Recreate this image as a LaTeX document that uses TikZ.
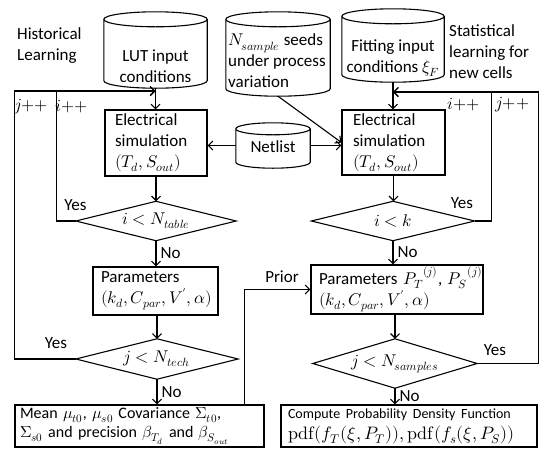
\documentclass[tikz,border=0pt]{standalone}
\usepackage{fontspec}
\usepackage{unicode-math}
\setmainfont{Carlito}
\usetikzlibrary{arrows.meta,calc}
\newcommand\cylshape[2]{%
  \draw[ln] let \p1=(#1.west), \p2=(#1.east), \n1={(\x2-\x1)/2} in
    ([yshift=-#2]#1.north) ellipse [x radius=\n1, y radius=#2]
    ([yshift=-#2]#1.north west) -- ([yshift=#2]#1.south west)
    arc [start angle=180, end angle=360, x radius=\n1, y radius=#2]
    -- ([yshift=-#2]#1.north east);}
\begin{document}
\begin{tikzpicture}[x=1pt,y=-1pt,
  ln/.style={line width=1.1pt},
  arr/.style={line width=1.1pt,-{Straight Barb[length=4.5pt,width=9pt]}},
  every node/.style={font=\fontsize{17}{21}\selectfont},
  txt/.style={inner sep=0},
  pbox/.style={draw,line width=1.1pt,inner ysep=0,align=left},
  hold/.style={inner sep=0,draw=none},
  lbl/.style={inner sep=0,anchor=west,xshift=4pt}]
\useasboundingbox (0,0) rectangle (547,459);

% cylinders
\node[hold,minimum width=103pt,minimum height=76pt] (lut) at (155.5,50) {};
\node[hold,minimum width=104pt,minimum height=84pt] (ns) at (278,54) {};
\node[hold,minimum width=102pt,minimum height=73pt] (fit) at (393,45.5) {};
\node[hold,minimum width=74pt,minimum height=45pt] (net) at (273,145.5) {};
\cylshape{lut}{7.5pt}
\cylshape{ns}{7.5pt}
\cylshape{fit}{7.5pt}
\cylshape{net}{6pt}
\node[txt,align=center] (lutT) at (155.5,66) {LUT input\\conditions};
\node[txt,align=left,anchor=west] (nsT) at (228,61) {$N_{sample}$ seeds\\under process\\variation};
\node[txt,align=center] (fitT) at (393,58) {Fitting input\\conditions $\xi_F$};
\node[txt] (netT) at (273,147) {Netlist};
\node[txt,align=left,anchor=west] (hist) at (17,46) {Historical\\Learning};
\node[txt,align=left,anchor=west] (stat) at (449,52) {Statistical\\learning for\\new cells};

% boxes
\node[pbox,text width=82pt,inner xsep=10pt,minimum height=66pt] (eL) at (156,143) {Electrical\\simulation\\$(T_d,S_{out})$};
\node[pbox,text width=81pt,inner xsep=11pt,minimum height=65pt] (eR) at (393.5,142.5) {Electrical\\simulation\\$(T_d,S_{out})$};
\node[pbox,text width=109pt,inner xsep=8pt,minimum height=48pt] (pL) at (155.5,291) {Parameters\\\mbox{$(k_d,C_{par},V',\alpha)$}};
\node[pbox,text width=156pt,inner xsep=8pt,minimum height=49pt] (pR) at (397,289.5) {\mbox{Parameters ${P_T}^{(j)}$, ${P_S}^{(j)}$}\\\mbox{$(k_d,C_{par},V',\alpha)$}};
\node[pbox,text width=239pt,inner xsep=5pt,minimum height=42pt,font=\fontsize{16}{19}\selectfont] (mean) at (139.5,426) {\mbox{Mean $\mu_{t0}$, $\mu_{s0}$ Covariance $\Sigma_{t0}$,}\\\mbox{$\Sigma_{s0}$ and precision $\beta_{T_d}$ and $\beta_{S_{out}}$}};
\node[pbox,text width=242pt,inner xsep=7pt,minimum height=42pt] (comp) at (409,426) {\mbox{\fontsize{14}{17}\selectfont Compute Probability Density Function}\\\mbox{\fontsize{18}{20}\selectfont $\symup{pdf}(f_T(\xi,P_T)),\symup{pdf}(f_s(\xi,P_S))$}};

% diamonds
\node[hold,minimum width=160pt,minimum height=39pt] (dL1) at (156,221) {$i<N_{table}$};
\node[hold,minimum width=163pt,minimum height=39pt] (dR1) at (393,221) {$i<k$};
\node[hold,minimum width=162pt,minimum height=40pt] (dL2) at (157,359) {$j<N_{tech}$};
\node[hold,minimum width=164pt,minimum height=49pt] (dR2) at (395,363.5) {$j<N_{samples}$};
\foreach \d in {dL1,dR1,dL2,dR2}
  \draw[ln] (\d.north) -- (\d.east) -- (\d.south) -- (\d.west) -- cycle;

% junctions
\coordinate (jL) at (155.5,91);
\coordinate (jR) at (393,92);

% main flow
\draw[arr] (lut.south) -- (lut.south |- eL.north);
\draw[arr] (fit.south) -- (fit.south |- eR.north);
\draw[arr] (eL.south) -- (eL.south |- dL1.north);
\draw[arr] (dL1.south) -- (dL1.south |- pL.north) node[lbl,midway] (no1) {No};
\draw[arr] (dL2.north |- pL.south) -- (dL2.north);
\draw[arr] (dL2.south) -- (dL2.south |- mean.north) node[lbl,midway] (no2) {No};
\draw[arr] (eR.south) -- (eR.south |- dR1.north);
\draw[arr] (dR1.south) -- (dR1.south |- pR.north) node[lbl,midway] (no3) {No};
\draw[arr] (dR2.north |- pR.south) -- (dR2.north);
\draw[arr] (dR2.south) -- (dR2.south |- comp.north) node[lbl,midway] (no4) {No};

% loops
\draw[arr] (dL1.west) -- ++(-19,0) |- (jL);
\draw[arr] (dL2.west) -- ++(-61,0) |- (jL);
\draw[arr] (dR1.east) -- ++(16.5,0) |- (jR);
\draw[arr] (dR2.east) -- ++(61,0) |- (jR);
\node[txt] (y1) at (75.5,205) {Yes};
\node[txt] (y2) at (56,343) {Yes};
\node[txt] (y3) at (462,203) {Yes};
\node[txt] (y4) at (495,350) {Yes};
\node[txt] (jp1) at (31,107) {$j{+}{+}$};
\node[txt] (ip1) at (72,107) {$i{+}{+}$};
\node[txt] (ip2) at (463.5,105) {$i{+}{+}$};
\node[txt] (jp2) at (512.5,105) {$j{+}{+}$};

% netlist and seeds
\draw[arr] (net.west) -- (net.west -| eL.east);
\draw[arr] (net.east) -- (net.east -| eR.west);
\draw[arr] (ns.south) -- (eR.west);

% prior
\draw[arr] ([xshift=-20pt]mean.north east) |- (pR.west);
\node[txt] (prior) at (282,277) {Prior};
\end{tikzpicture}
\end{document}
